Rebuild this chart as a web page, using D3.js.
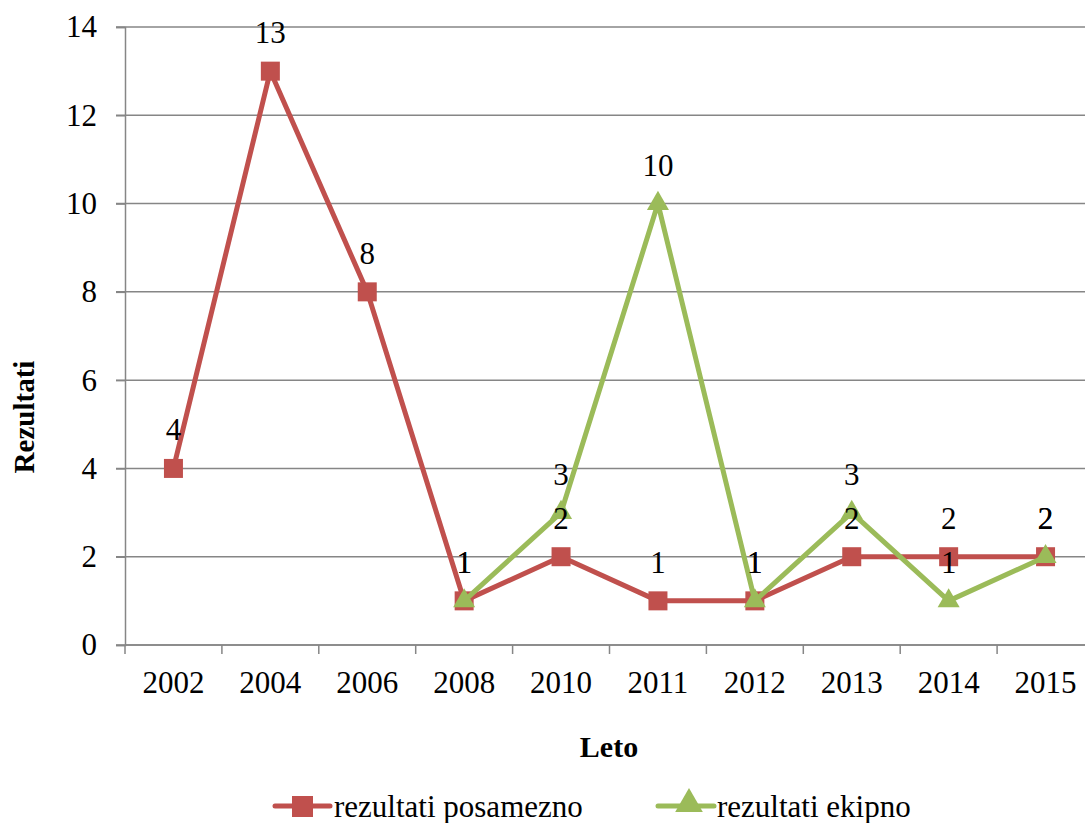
<!DOCTYPE html>
<html><head><meta charset="utf-8">
<script src="https://cdn.jsdelivr.net/npm/d3@7/dist/d3.min.js"></script>
<style>body{margin:0;background:#fff}svg{display:block}</style>
</head><body><svg id="c" width="1085" height="823" font-family="Liberation Serif"></svg>
<script>
const years = ["2002","2004","2006","2008","2010","2011","2012","2013","2014","2015"];
const posamezno = [4,13,8,1,2,1,1,2,2,2];
const ekipno = [null,null,null,1,3,10,1,3,1,2];
const yTicks = [0,2,4,6,8,10,12,14];
const seriesNames = ["rezultati posamezno","rezultati ekipno"];

const FONT = "Liberation Serif", FS = 31;
const svg = d3.select("#c");
const L=125,R=1094,T=27,B=645;
const x = d3.scaleBand().domain(years).range([L,R]);
const y = d3.scaleLinear().domain([0,14]).range([B,T]);
const grid="#868686", red="#C0504D", green="#9BBB59";

// gridlines
svg.append("g").selectAll("line").data(yTicks).join("line")
  .attr("x1",L-9).attr("x2",R).attr("y1",d=>y(d)).attr("y2",d=>y(d))
  .attr("stroke",grid).attr("stroke-width",1.5);
// y axis
const ya = svg.append("g").attr("transform",`translate(${L},0)`)
  .call(d3.axisLeft(y).tickValues(yTicks).tickSize(9).tickPadding(19));
ya.attr("font-family",FONT).attr("font-size",FS);
ya.select(".domain").attr("stroke",grid).attr("stroke-width",1.5);
ya.selectAll(".tick line").attr("stroke",grid).attr("stroke-width",1.5);
ya.selectAll("text").attr("font-family",FONT).attr("font-size",FS).attr("fill","#000");
// x axis
const xa = svg.append("g").attr("transform",`translate(0,${B})`);
xa.append("line").attr("x1",L).attr("x2",R).attr("stroke",grid).attr("stroke-width",1.5);
const bounds = years.map(d=>x(d)).concat([R]);
xa.selectAll("line.tk").data(bounds).join("line").attr("class","tk")
  .attr("x1",d=>d).attr("x2",d=>d).attr("y1",0).attr("y2",9).attr("stroke",grid).attr("stroke-width",1.5);
xa.selectAll("text").data(years).join("text")
  .attr("x",d=>x(d)+x.bandwidth()/2).attr("y",48).attr("text-anchor","middle")
  .attr("font-family",FONT).attr("font-size",FS).text(d=>d);

// titles
svg.append("text").attr("transform","translate(34,417) rotate(-90)")
  .attr("text-anchor","middle").attr("font-family",FONT).attr("font-size",29).attr("font-weight","bold").text("Rezultati");
svg.append("text").attr("x",609).attr("y",757).attr("text-anchor","middle")
  .attr("font-family",FONT).attr("font-size",30).attr("font-weight","bold").text("Leto");

const cx = d=>x(d)+x.bandwidth()/2;
const line = d3.line().defined(d=>d.v!=null).x(d=>cx(d.k)).y(d=>y(d.v));
const redData = years.map((k,i)=>({k,v:posamezno[i]}));
const greenData = years.map((k,i)=>({k,v:ekipno[i]}));

svg.append("path").datum(redData).attr("d",line).attr("fill","none").attr("stroke",red).attr("stroke-width",5).attr("stroke-linejoin","round");
svg.append("g").selectAll("rect").data(redData).join("rect")
  .attr("x",d=>cx(d.k)-9.5).attr("y",d=>y(d.v)-9.5).attr("width",19).attr("height",19).attr("fill",red);

svg.append("path").datum(greenData).attr("d",line).attr("fill","none").attr("stroke",green).attr("stroke-width",5).attr("stroke-linejoin","round");
const tri = d3.symbol().type(d3.symbolTriangle).size(210);
svg.append("g").selectAll("path").data(greenData.filter(d=>d.v!=null)).join("path")
  .attr("d",tri).attr("transform",d=>`translate(${cx(d.k)},${y(d.v)})`).attr("fill",green);

// data labels
const lab = (data)=>svg.append("g").selectAll("text").data(data.filter(d=>d.v!=null)).join("text")
  .attr("x",d=>cx(d.k)).attr("y",d=>y(d.v)-28).attr("text-anchor","middle")
  .attr("font-family",FONT).attr("font-size",FS).text(d=>d.v);
lab(redData); lab(greenData);

// legend
const lg = svg.append("g");
lg.append("line").attr("x1",275).attr("x2",330).attr("y1",806).attr("y2",806).attr("stroke",red).attr("stroke-width",5).attr("stroke-linecap","round");
lg.append("rect").attr("x",292).attr("y",796).attr("width",21).attr("height",21).attr("fill",red);
lg.append("text").attr("x",334).attr("y",817).attr("font-family",FONT).attr("font-size",FS).text(seriesNames[0]);
lg.append("line").attr("x1",658).attr("x2",714).attr("y1",806).attr("y2",806).attr("stroke",green).attr("stroke-width",5).attr("stroke-linecap","round");
lg.append("path").attr("d",d3.symbol().type(d3.symbolTriangle).size(330)).attr("transform","translate(689,804)").attr("fill",green);
lg.append("text").attr("x",717).attr("y",817).attr("font-family",FONT).attr("font-size",FS).text(seriesNames[1]);
</script></body></html>
